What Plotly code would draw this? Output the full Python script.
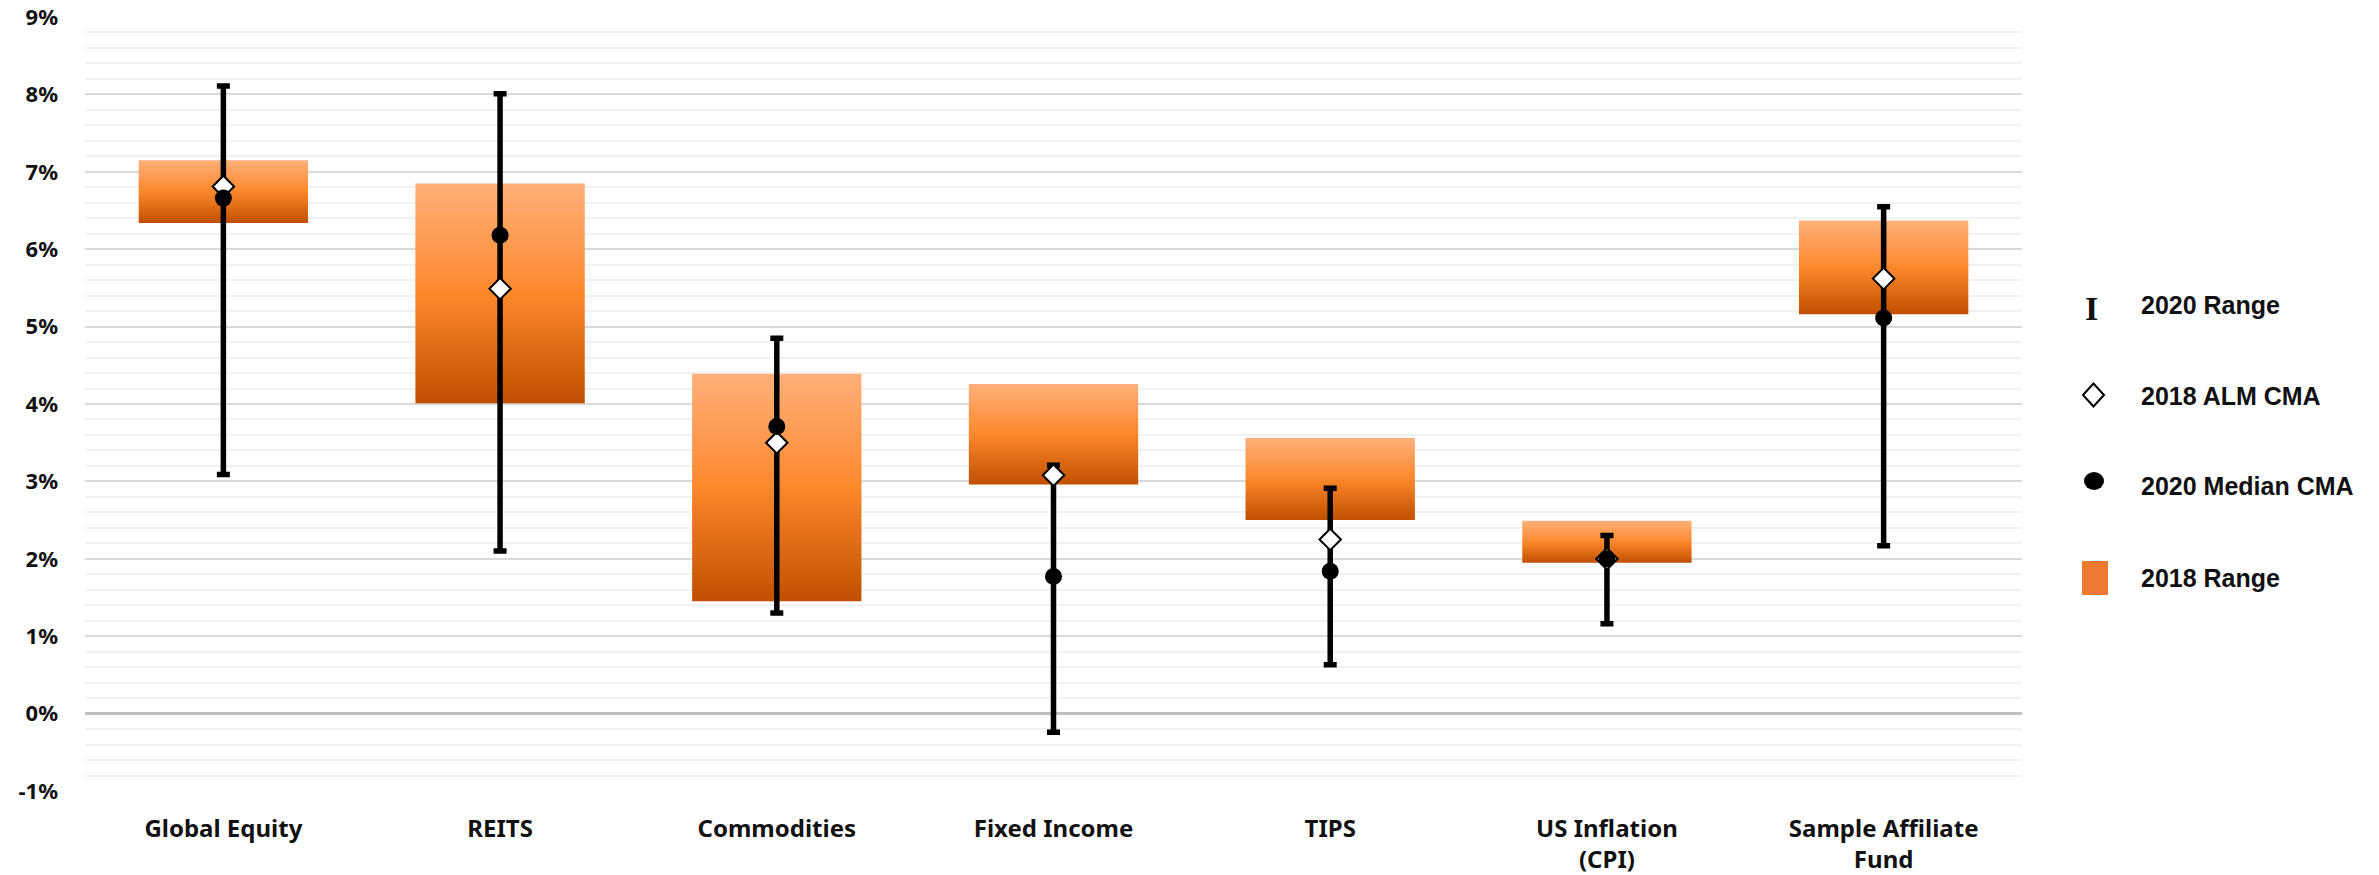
import plotly.graph_objects as go

# Capital market assumption ranges by asset class (percent)
categories = ["Global Equity", "REITS", "Commodities", "Fixed Income", "TIPS",
              "US Inflation<br>(CPI)", "Sample Affiliate<br>Fund"]
range_2020_low = [3.09, 2.10, 1.30, -0.24, 0.63, 1.16, 2.17]
range_2020_high = [8.11, 8.01, 4.85, 3.21, 2.91, 2.30, 6.55]
range_2018_low = [6.34, 4.01, 1.45, 2.96, 2.50, 1.95, 5.16]
range_2018_high = [7.15, 6.85, 4.39, 4.26, 3.56, 2.49, 6.37]
alm_cma_2018 = [6.81, 5.49, 3.50, 3.08, 2.25, 2.00, 5.62]
median_cma_2020 = [6.66, 6.18, 3.71, 1.77, 1.84, 2.00, 5.11]

y_tick_vals = [-1, 0, 1, 2, 3, 4, 5, 6, 7, 8, 9]
y_tick_text = ["-1%", "0%", "1%", "2%", "3%", "4%", "5%", "6%", "7%", "8%", "9%"]

legend_names = ["2020 Range", "2018 ALM CMA", "2020 Median CMA", "2018 Range"]

W, H = 2379, 875
L, R, T, B = 85, 2022, 17, 791
BOX_W = 0.612
ORANGE_SCALE = [[0.0, "#C05000"], [0.5, "#FC882C"], [1.0, "#FFB07A"]]

xs = list(range(len(categories)))
fig = go.Figure()

# 2018 range: one gradient-filled box per asset class
for i, lo, hi in zip(xs, range_2018_low, range_2018_high):
    fig.add_trace(go.Scatter(
        x=[i - BOX_W / 2, i + BOX_W / 2, i + BOX_W / 2, i - BOX_W / 2, i - BOX_W / 2],
        y=[lo, lo, hi, hi, lo],
        mode="lines", line=dict(width=0), fill="toself",
        fillgradient=dict(type="vertical", colorscale=ORANGE_SCALE, start=lo, stop=hi),
        hoverinfo="skip", showlegend=False,
    ))

# 2020 range whiskers
mid = [(lo + hi) / 2 for lo, hi in zip(range_2020_low, range_2020_high)]
half = [(hi - lo) / 2 for lo, hi in zip(range_2020_low, range_2020_high)]
fig.add_trace(go.Scatter(
    x=xs, y=mid, mode="markers",
    marker=dict(size=1, color="rgba(0,0,0,0)"),
    error_y=dict(type="data", array=half, symmetric=True, color="black",
                 thickness=5.5, width=6.5),
    showlegend=False, name="2020 Range",
))

# 2018 ALM CMA
fig.add_trace(go.Scatter(
    x=xs, y=alm_cma_2018, mode="markers",
    marker=dict(symbol="diamond", size=16.5, color="white",
                line=dict(color="black", width=2)),
    showlegend=False, name="2018 ALM CMA",
))

# 2020 median CMA
fig.add_trace(go.Scatter(
    x=xs, y=median_cma_2020, mode="markers",
    marker=dict(symbol="circle", size=17, color="black"),
    showlegend=False, name="2020 Median CMA",
))


def paper_x(px):
    return (px - L) / (R - L)


def paper_y(py):
    return (B - py) / (B - T)


# Legend drawn at the right of the plot
leg_sym_x = 2094
leg_text_x = 2139
leg_rows = [305, 396, 486, 578]
annotations = []
shapes = []

annotations.append(dict(
    x=paper_x(2091), y=paper_y(leg_rows[0] + 3), xref="paper", yref="paper",
    text="<b>I</b>", showarrow=False, xanchor="center", yanchor="middle",
    font=dict(family="Liberation Serif", size=34, color="#111111"),
))
cx, cy = paper_x(leg_sym_x - 0.5), paper_y(leg_rows[1] - 1)
dx, dy = 10.5 / (R - L), 11.5 / (B - T)
shapes.append(dict(
    type="path", xref="paper", yref="paper",
    path=f"M {cx - dx},{cy} L {cx},{cy + dy} L {cx + dx},{cy} L {cx},{cy - dy} Z",
    fillcolor="white", line=dict(color="black", width=2),
))
shapes.append(dict(
    type="circle", xref="paper", yref="paper",
    x0=paper_x(leg_sym_x - 10), x1=paper_x(leg_sym_x + 10),
    y0=paper_y(leg_rows[2] - 5 + 9), y1=paper_y(leg_rows[2] - 5 - 9),
    fillcolor="black", line=dict(width=0),
))
shapes.append(dict(
    type="rect", xref="paper", yref="paper",
    x0=paper_x(2082), x1=paper_x(2108),
    y0=paper_y(595), y1=paper_y(561),
    fillcolor="#EE7A32", line=dict(width=0),
))
for name, row in zip(legend_names, leg_rows):
    annotations.append(dict(
        x=paper_x(leg_text_x), y=paper_y(row), xref="paper", yref="paper",
        text=f"<b>{name}</b>", showarrow=False, xanchor="left", yanchor="middle",
        font=dict(family="Liberation Sans", size=25, color="#111111"),
    ))

fig.update_layout(
    width=W, height=H,
    margin=dict(l=L, r=W - R, t=T, b=H - B, pad=0, autoexpand=False),
    paper_bgcolor="white", plot_bgcolor="white",
    showlegend=False,
    annotations=annotations, shapes=shapes,
    font=dict(family="Noto Sans", color="#111111"),
)
fig.update_xaxes(
    range=[-0.5, len(categories) - 0.5],
    tickmode="array", tickvals=xs, ticktext=[f"<b>{c}</b>" for c in categories],
    tickfont=dict(family="Noto Sans", size=24, color="#111111"),
    showgrid=False, zeroline=False, showline=False, ticks="",
    ticklabelstandoff=21, fixedrange=True, automargin=False,
)
fig.update_yaxes(
    range=[-1, 9],
    tickmode="array", tickvals=y_tick_vals, ticktext=[f"<b>{t}</b>" for t in y_tick_text],
    tickfont=dict(family="Noto Sans", size=22, color="#111111"),
    showgrid=True, gridcolor="#D9D9D9", gridwidth=2,
    minor=dict(tickmode="linear", tick0=0, dtick=0.2, showgrid=True,
               gridcolor="#F1F1F1", gridwidth=2, ticks=""),
    zeroline=True, zerolinecolor="#BFBFBF", zerolinewidth=3,
    showline=False, ticks="", ticklabelstandoff=26, fixedrange=True, automargin=False,
)

fig.write_html("out.html")
